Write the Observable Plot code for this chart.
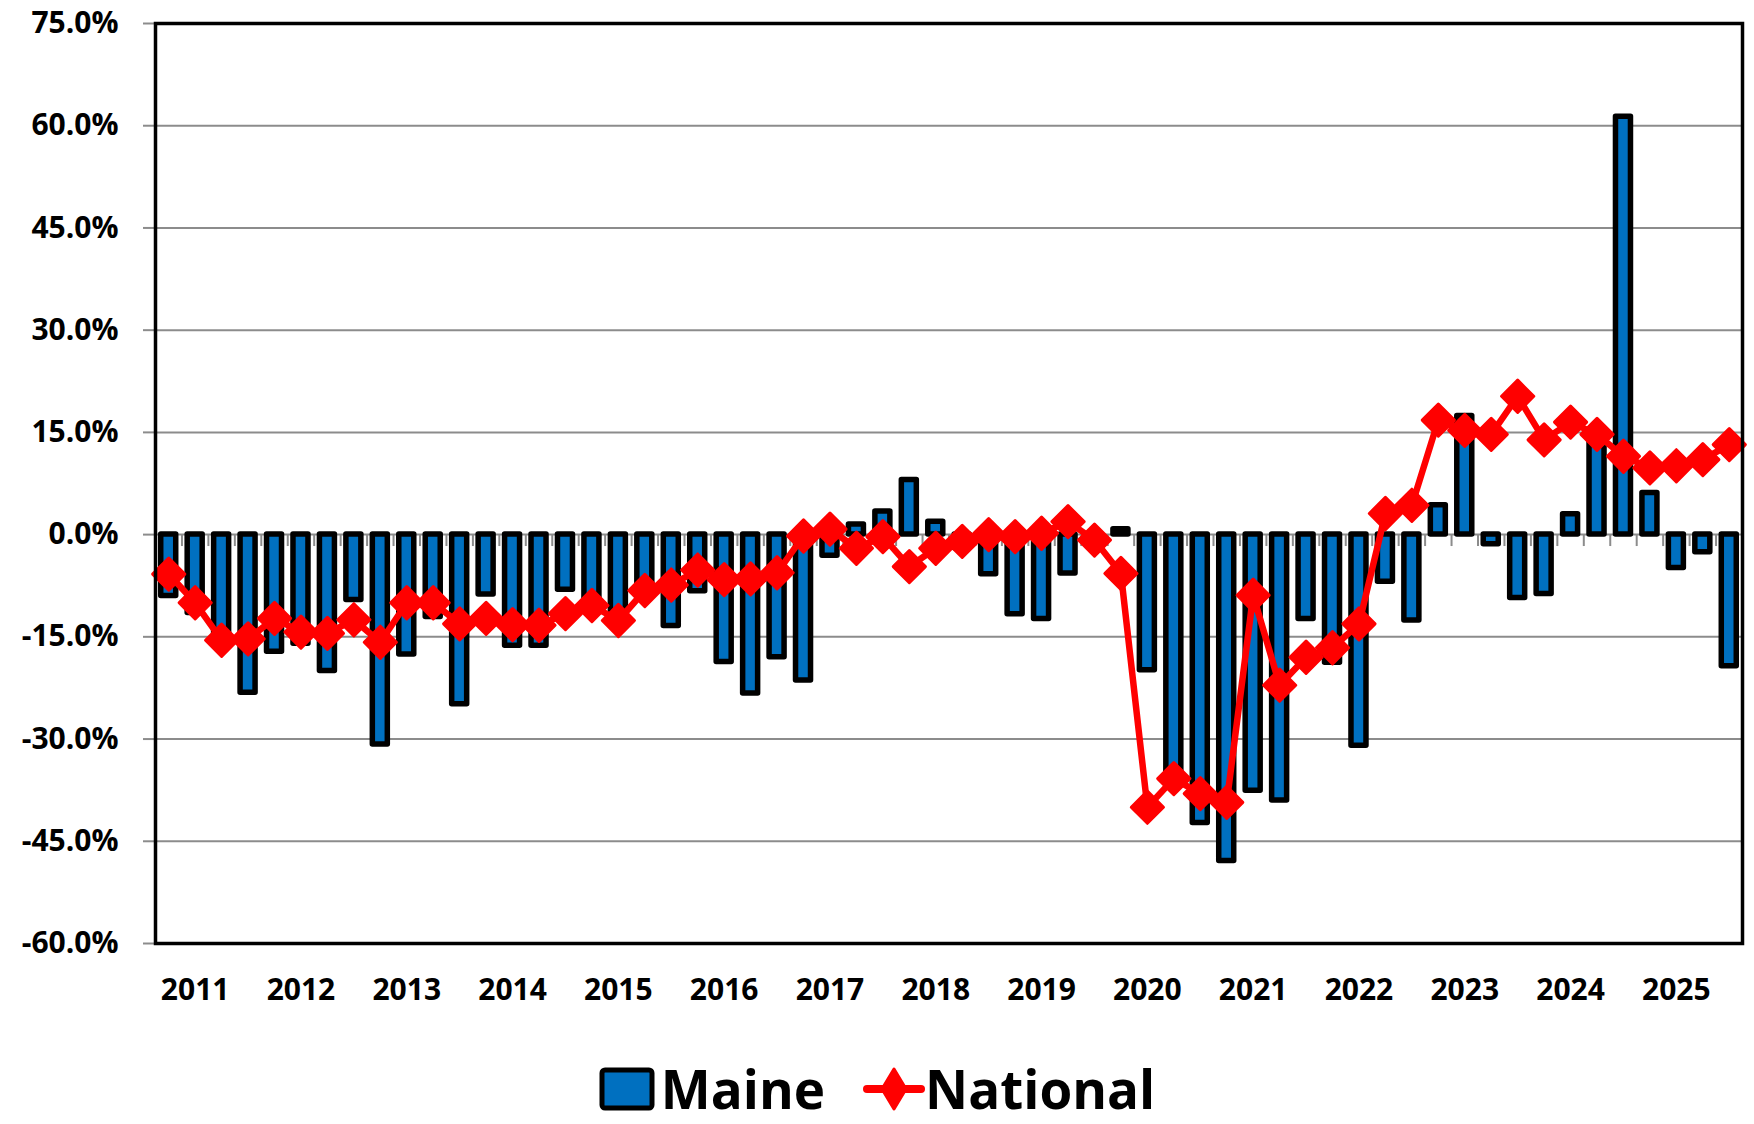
<!DOCTYPE html>
<html>
<head>
<meta charset="utf-8">
<script src="https://cdn.jsdelivr.net/npm/d3@7"></script>
<script src="https://cdn.jsdelivr.net/npm/@observablehq/plot@0.6"></script>
<style>
  body { margin: 0; background: #fff; font-family: "Open Sans", sans-serif; }
  #chart { width: 1754px; height: 1124px; position: relative; overflow: hidden; }
  #legend { position: absolute; left: 0; top: 1054px; width: 1754px; height: 70px;
            display: flex; justify-content: center; align-items: center;
            font-weight: 700; font-size: 53px; color: #000; }
  #legend span { line-height: 1.2; }
</style>
</head>
<body>
<div id="chart">
  <div id="plot"></div>
  <div id="legend">
    <svg width="56" height="44" style="margin-right:6px"><rect x="3" y="3" width="50" height="38" rx="3" fill="#0070C0" stroke="#000" stroke-width="5"/></svg>
    <span>Maine</span>
    <svg width="62" height="50" style="margin-left:38px"><line x1="4" y1="25" x2="58" y2="25" stroke="#FF0000" stroke-width="8" stroke-linecap="round"/><path d="M31,5 L43,25 L31,45 L19,25Z" fill="#FF0000" stroke="#FF0000" stroke-width="3" stroke-linejoin="round"/></svg>
    <span>National</span>
  </div>
</div>
<script>
const quarters = [
  "2010 Q4",
  "2011 Q1","2011 Q2","2011 Q3","2011 Q4",
  "2012 Q1","2012 Q2","2012 Q3","2012 Q4",
  "2013 Q1","2013 Q2","2013 Q3","2013 Q4",
  "2014 Q1","2014 Q2","2014 Q3","2014 Q4",
  "2015 Q1","2015 Q2","2015 Q3","2015 Q4",
  "2016 Q1","2016 Q2","2016 Q3","2016 Q4",
  "2017 Q1","2017 Q2","2017 Q3","2017 Q4",
  "2018 Q1","2018 Q2","2018 Q3","2018 Q4",
  "2019 Q1","2019 Q2","2019 Q3","2019 Q4",
  "2020 Q1","2020 Q2","2020 Q3","2020 Q4",
  "2021 Q1","2021 Q2","2021 Q3","2021 Q4",
  "2022 Q1","2022 Q2","2022 Q3","2022 Q4",
  "2023 Q1","2023 Q2","2023 Q3","2023 Q4",
  "2024 Q1","2024 Q2","2024 Q3","2024 Q4",
  "2025 Q1","2025 Q2","2025 Q3"
];

const maine = [
  -9.0, -11.5, -15.5, -23.2, -17.2, -16.0, -20.0, -9.6, -30.8, -17.6,
  -12.1, -24.9, -8.8, -16.3, -16.3, -8.1, -11.0, -12.5, -8.0, -13.4,
  -8.3, -18.7, -23.3, -18.0, -21.4, -3.1, 1.5, 3.4, 8.0, 1.9,
  -2.0, -5.8, -11.7, -12.4, -5.7, -0.5, 0.8, -19.9, -36.0, -42.3,
  -47.9, -37.6, -39.0, -12.4, -18.8, -31.0, -6.9, -12.6, 4.3, 17.4,
  -1.4, -9.3, -8.7, 3.0, 14.0, 61.3, 6.1, -4.9, -2.6, -19.3
];

const national = [
  -5.8, -10.0, -15.5, -15.3, -12.3, -14.3, -14.5, -12.5, -15.8, -10.0,
  -10.0, -13.1, -12.3, -13.2, -13.3, -11.6, -10.4, -12.6, -8.2, -7.4,
  -5.2, -6.6, -6.5, -5.6, -0.2, 0.8, -2.0, -0.3, -4.7, -2.0,
  -1.0, 0.0, -0.3, 0.2, 1.9, -0.8, -5.7, -40.0, -35.8, -38.0,
  -39.3, -8.9, -22.1, -18.0, -16.6, -13.1, 3.1, 4.3, 16.8, 15.3,
  14.7, 20.3, 13.9, 16.5, 14.7, 11.5, 9.8, 10.1, 11.0, 13.2
];

const years = ["2011","2012","2013","2014","2015","2016","2017","2018","2019","2020","2021","2022","2023","2024","2025"];
const yTicks = [-60, -45, -30, -15, 0, 15, 30, 45, 60, 75];

const data = quarters.map((q, i) => ({q, maine: maine[i], national: national[i]}));
const yearAnchors = years.map(y => y + " Q1");

const W = 1754, H = 1030, mL = 155, mR = 12, mT = 23, mB = 87;
const step = (W - mL - mR) / quarters.length;
const gray = "#8c8c8c";

const plot = Plot.plot({
  width: W, height: H,
  marginLeft: mL, marginRight: mR, marginTop: mT, marginBottom: mB,
  style: {fontFamily: '"Open Sans", sans-serif', fontWeight: 700, fontSize: "30px", background: "white", color: "#000"},
  x: {type: "band", domain: quarters, paddingInner: 0.433, paddingOuter: 0.2165, round: false, axis: null},
  y: {domain: [-60, 75], axis: null},
  marks: [
    Plot.gridY(yTicks, {stroke: gray, strokeOpacity: 1, strokeWidth: 2}),
    Plot.axisY(yTicks, {tickFormat: d => d.toFixed(1) + "%", tickSize: 12, tickPadding: 25, stroke: gray, strokeWidth: 2, fontSize: 30, fontWeight: 700}),
    Plot.ruleX(quarters.slice(1), {x: d => d, y1: 0, y2: -1.75, dx: -step / 2, stroke: gray, strokeWidth: 2}),
    Plot.barY(data, {x: "q", y: "maine", fill: "#0070C0", stroke: "#000", strokeWidth: 5.5, strokeLinejoin: "round"}),
    Plot.lineY(data, {x: "q", y: "national", stroke: "#FF0000", strokeWidth: 6.5, strokeLinejoin: "round"}),
    Plot.dot(data, {x: "q", y: "national", symbol: "diamond2", r: 14.5, fill: "#FF0000", stroke: "#FF0000", strokeWidth: 3, strokeLinejoin: "round"}),
    Plot.text(yearAnchors, {x: d => d, text: (d, i) => years[i], frameAnchor: "bottom", dy: 56, fontSize: 30, fontWeight: 700, fill: "#000"}),
    Plot.frame({stroke: "#000", strokeWidth: 3.5})
  ]
});
document.getElementById("plot").appendChild(plot);
</script>
</body>
</html>
